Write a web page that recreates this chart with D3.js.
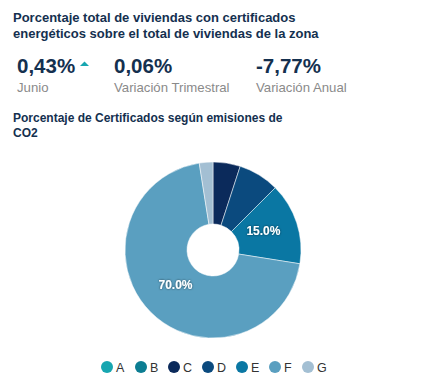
<!DOCTYPE html>
<html><head><meta charset="utf-8">
<script src="https://cdn.jsdelivr.net/npm/d3@7"></script>
<style>
body{margin:0;background:#fff;font-family:"Liberation Sans",Arial,sans-serif;}
</style></head>
<body>
<svg id="c" width="437" height="391"></svg>
<script>
const categories = ["A","B","C","D","E","F","G"];
const values = [0, 0, 5, 7.5, 15, 70, 2.5];
const colors = ["#17a6b0","#0c7d92","#0b2a5b","#0b4a7e","#0a77a3","#5a9fc0","#a3bfd3"];
const kpiValues = ["0,43%","0,06%","-7,77%"];
const kpiLabels = ["Junio","Variación Trimestral","Variación Anual"];

const svg = d3.select("#c");
const navy = "#14304f";

const t1 = svg.append("text").attr("font-size",13).attr("font-weight","bold").attr("fill",navy);
t1.append("tspan").attr("x",13).attr("y",22).text("Porcentaje total de viviendas con certificados");
t1.append("tspan").attr("x",13).attr("y",38).text("energéticos sobre el total de viviendas de la zona");

const kx = [17,114,256];
kpiValues.forEach((v,i)=>{
  svg.append("text").attr("x",kx[i]).attr("y",73).attr("font-size",20.5).attr("font-weight","bold").attr("fill",navy).text(v);
  svg.append("text").attr("x",kx[i]).attr("y",92).attr("font-size",13.2).attr("fill","#8a8a8a").text(kpiLabels[i]);
});
svg.append("path").attr("d","M80,66 L84.5,61.5 L89,66 Z").attr("fill","#17a6b0");

const t2 = svg.append("text").attr("font-size",12).attr("font-weight","bold").attr("fill",navy);
t2.append("tspan").attr("x",13).attr("y",122).text("Porcentaje de Certificados según emisiones de");
t2.append("tspan").attr("x",13).attr("y",137).text("CO2");

const cx=213, cy=250, R=88, r=26;
const pie = d3.pie().sort(null).value(d=>d.v);
const data = categories.map((c,i)=>({c, v:values[i], col:colors[i]}));
const arcs = pie(data);
const arc = d3.arc().innerRadius(r).outerRadius(R);
const g = svg.append("g").attr("transform",`translate(${cx},${cy})`);
g.selectAll("path").data(arcs).enter().append("path")
  .attr("d",arc).attr("fill",d=>d.data.col).attr("stroke","#fff").attr("stroke-width",0.5);

const labelArc = d3.arc().innerRadius(53).outerRadius(53);
const defs = svg.append("defs");
const f = defs.append("filter").attr("id","sh").attr("x","-20%").attr("y","-20%").attr("width","140%").attr("height","140%");
f.append("feDropShadow").attr("dx",0).attr("dy",0).attr("stdDeviation",1).attr("flood-color","#000").attr("flood-opacity",0.6);
g.selectAll("text.lbl").data(arcs.filter(d=>d.data.v>=10)).enter().append("text")
  .attr("class","lbl")
  .attr("transform",d=>{const c=labelArc.centroid(d);return `translate(${c[0]},${c[1]})`;})
  .attr("text-anchor","middle").attr("dy","0.15em")
  .attr("font-size",12).attr("font-weight","bold").attr("fill","#fff").attr("filter","url(#sh)")
  .text(d=>d.data.v.toFixed(1)+"%");

const lx = [107,141,174,208,242,275,308];
const lg = svg.append("g");
categories.forEach((c,i)=>{
  lg.append("circle").attr("cx",lx[i]).attr("cy",367).attr("r",6).attr("fill",colors[i]);
  lg.append("text").attr("x",lx[i]+9).attr("y",371.5).attr("font-size",12.5).attr("fill","#333").text(c);
});
</script>
</body></html>
